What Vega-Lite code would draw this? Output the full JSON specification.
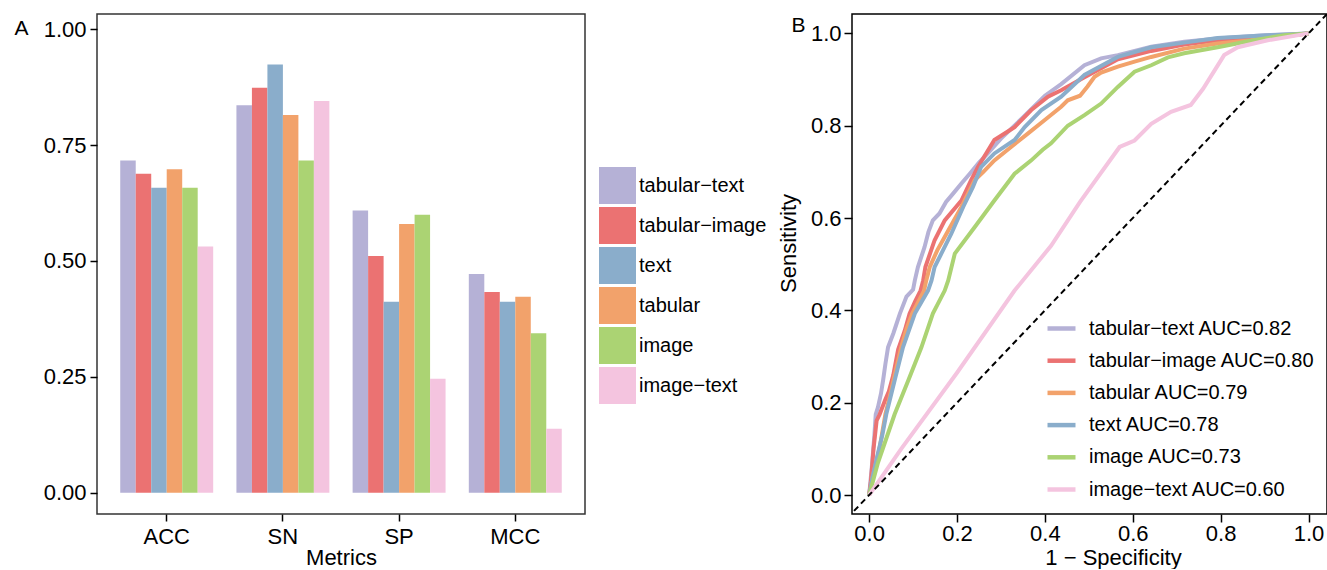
{
  "$schema": "https://vega.github.io/schema/vega-lite/v6.json",
  "padding": {"left": 13, "top": 13, "right": 0, "bottom": 0},
  "autosize": {"type": "pad"},
  "bounds": "flush",
  "spacing": 267,
  "config": {
    "font": "Liberation Sans",
    "axis": {"domain": false, "grid": false, "tickColor": "#000", "tickWidth": 1.5, "tickSize": 7, "labelFontSize": 22, "labelColor": "#000", "titleFontSize": 22, "titleFontWeight": "normal", "titleColor": "#000"},
    "legend": {"labelFontSize": 20, "labelColor": "#000", "title": null, "padding": 0, "labelLimit": 0}
  },
  "resolve": {"scale": {"color": "independent"}, "legend": {"color": "independent"}},
  "hconcat": [
    {
      "width": 488,
      "height": 500,
      "view": {"stroke": "#333", "strokeWidth": 1.5},
      "data": {"values": [
        {"metric": "ACC", "model": "tabular−text", "value": 0.717},
        {"metric": "ACC", "model": "tabular−image", "value": 0.688},
        {"metric": "ACC", "model": "text", "value": 0.658},
        {"metric": "ACC", "model": "tabular", "value": 0.698},
        {"metric": "ACC", "model": "image", "value": 0.658},
        {"metric": "ACC", "model": "image−text", "value": 0.531},
        {"metric": "SN", "model": "tabular−text", "value": 0.836},
        {"metric": "SN", "model": "tabular−image", "value": 0.874},
        {"metric": "SN", "model": "text", "value": 0.924},
        {"metric": "SN", "model": "tabular", "value": 0.815},
        {"metric": "SN", "model": "image", "value": 0.717},
        {"metric": "SN", "model": "image−text", "value": 0.845},
        {"metric": "SP", "model": "tabular−text", "value": 0.609},
        {"metric": "SP", "model": "tabular−image", "value": 0.511},
        {"metric": "SP", "model": "text", "value": 0.412},
        {"metric": "SP", "model": "tabular", "value": 0.58},
        {"metric": "SP", "model": "image", "value": 0.6},
        {"metric": "SP", "model": "image−text", "value": 0.246},
        {"metric": "MCC", "model": "tabular−text", "value": 0.472},
        {"metric": "MCC", "model": "tabular−image", "value": 0.433},
        {"metric": "MCC", "model": "text", "value": 0.412},
        {"metric": "MCC", "model": "tabular", "value": 0.423},
        {"metric": "MCC", "model": "image", "value": 0.344},
        {"metric": "MCC", "model": "image−text", "value": 0.138}
      ]},
      "mark": {"type": "bar"},
      "encoding": {
        "x": {"field": "metric", "type": "nominal", "sort": ["ACC", "SN", "SP", "MCC"],
              "scale": {"paddingInner": 0.2, "paddingOuter": 0.2},
              "axis": {"title": "Metrics", "labelAngle": 0, "labelPadding": 5, "titlePadding": 0}},
        "xOffset": {"field": "model", "type": "nominal",
              "sort": ["tabular−text", "tabular−image", "text", "tabular", "image", "image−text"],
              "scale": {"paddingInner": 0, "paddingOuter": 0}},
        "y": {"field": "value", "type": "quantitative",
              "scale": {"domain": [-0.046, 1.033], "nice": false},
              "axis": {"values": [0, 0.25, 0.5, 0.75, 1], "format": ".2f", "title": "A", "titleAngle": 0,
                       "titleX": -83, "titleY": 14.5, "titleAlign": "left", "titleBaseline": "middle",
                       "titleFontSize": 21, "labelPadding": 4}},
        "y2": {"datum": 0},
        "color": {"field": "model", "type": "nominal",
              "scale": {"domain": ["tabular−text", "tabular−image", "text", "tabular", "image", "image−text"],
                        "range": ["#B5B1D6", "#EB7272", "#8AADCB", "#F2A26B", "#ABD373", "#F4C4DF"]},
              "legend": {"orient": "none", "legendX": 502, "legendY": 153, "symbolType": "square",
                         "symbolSize": 1369, "symbolStrokeWidth": 0, "symbolOpacity": 1,
                         "rowPadding": 3, "labelOffset": 3, "labelFontSize": 20}}
      }
    },
    {
      "width": 475,
      "height": 500,
      "view": {"stroke": "#000", "strokeWidth": 1.5},
      "resolve": {"axis": {"x": "independent"}},
      "layer": [
        {
          "data": {"values": [
            {"curve": "tabular−text AUC=0.82", "fpr": 0, "tpr": 0},
            {"curve": "tabular−text AUC=0.82", "fpr": 0.006, "tpr": 0.06},
            {"curve": "tabular−text AUC=0.82", "fpr": 0.012, "tpr": 0.13},
            {"curve": "tabular−text AUC=0.82", "fpr": 0.015, "tpr": 0.175},
            {"curve": "tabular−text AUC=0.82", "fpr": 0.02, "tpr": 0.19},
            {"curve": "tabular−text AUC=0.82", "fpr": 0.027, "tpr": 0.22},
            {"curve": "tabular−text AUC=0.82", "fpr": 0.032, "tpr": 0.25},
            {"curve": "tabular−text AUC=0.82", "fpr": 0.037, "tpr": 0.284},
            {"curve": "tabular−text AUC=0.82", "fpr": 0.043, "tpr": 0.32},
            {"curve": "tabular−text AUC=0.82", "fpr": 0.055, "tpr": 0.35},
            {"curve": "tabular−text AUC=0.82", "fpr": 0.062, "tpr": 0.37},
            {"curve": "tabular−text AUC=0.82", "fpr": 0.07, "tpr": 0.393},
            {"curve": "tabular−text AUC=0.82", "fpr": 0.085, "tpr": 0.43},
            {"curve": "tabular−text AUC=0.82", "fpr": 0.1, "tpr": 0.445},
            {"curve": "tabular−text AUC=0.82", "fpr": 0.104, "tpr": 0.465},
            {"curve": "tabular−text AUC=0.82", "fpr": 0.111, "tpr": 0.494},
            {"curve": "tabular−text AUC=0.82", "fpr": 0.126, "tpr": 0.537},
            {"curve": "tabular−text AUC=0.82", "fpr": 0.135, "tpr": 0.57},
            {"curve": "tabular−text AUC=0.82", "fpr": 0.145, "tpr": 0.595},
            {"curve": "tabular−text AUC=0.82", "fpr": 0.16, "tpr": 0.61},
            {"curve": "tabular−text AUC=0.82", "fpr": 0.175, "tpr": 0.635},
            {"curve": "tabular−text AUC=0.82", "fpr": 0.191, "tpr": 0.653},
            {"curve": "tabular−text AUC=0.82", "fpr": 0.21, "tpr": 0.675},
            {"curve": "tabular−text AUC=0.82", "fpr": 0.229, "tpr": 0.696},
            {"curve": "tabular−text AUC=0.82", "fpr": 0.25, "tpr": 0.72},
            {"curve": "tabular−text AUC=0.82", "fpr": 0.27, "tpr": 0.74},
            {"curve": "tabular−text AUC=0.82", "fpr": 0.3, "tpr": 0.772},
            {"curve": "tabular−text AUC=0.82", "fpr": 0.35, "tpr": 0.818},
            {"curve": "tabular−text AUC=0.82", "fpr": 0.4, "tpr": 0.865},
            {"curve": "tabular−text AUC=0.82", "fpr": 0.437, "tpr": 0.89},
            {"curve": "tabular−text AUC=0.82", "fpr": 0.49, "tpr": 0.931},
            {"curve": "tabular−text AUC=0.82", "fpr": 0.528, "tpr": 0.946},
            {"curve": "tabular−text AUC=0.82", "fpr": 0.566, "tpr": 0.953},
            {"curve": "tabular−text AUC=0.82", "fpr": 0.642, "tpr": 0.971},
            {"curve": "tabular−text AUC=0.82", "fpr": 0.717, "tpr": 0.982},
            {"curve": "tabular−text AUC=0.82", "fpr": 0.793, "tpr": 0.989},
            {"curve": "tabular−text AUC=0.82", "fpr": 0.9, "tpr": 0.996},
            {"curve": "tabular−text AUC=0.82", "fpr": 1, "tpr": 1},

            {"curve": "tabular−image AUC=0.80", "fpr": 0, "tpr": 0},
            {"curve": "tabular−image AUC=0.80", "fpr": 0.004, "tpr": 0.03},
            {"curve": "tabular−image AUC=0.80", "fpr": 0.01, "tpr": 0.1},
            {"curve": "tabular−image AUC=0.80", "fpr": 0.017, "tpr": 0.161},
            {"curve": "tabular−image AUC=0.80", "fpr": 0.024, "tpr": 0.175},
            {"curve": "tabular−image AUC=0.80", "fpr": 0.036, "tpr": 0.205},
            {"curve": "tabular−image AUC=0.80", "fpr": 0.045, "tpr": 0.225},
            {"curve": "tabular−image AUC=0.80", "fpr": 0.055, "tpr": 0.26},
            {"curve": "tabular−image AUC=0.80", "fpr": 0.066, "tpr": 0.315},
            {"curve": "tabular−image AUC=0.80", "fpr": 0.081, "tpr": 0.356},
            {"curve": "tabular−image AUC=0.80", "fpr": 0.092, "tpr": 0.393},
            {"curve": "tabular−image AUC=0.80", "fpr": 0.105, "tpr": 0.42},
            {"curve": "tabular−image AUC=0.80", "fpr": 0.117, "tpr": 0.443},
            {"curve": "tabular−image AUC=0.80", "fpr": 0.123, "tpr": 0.465},
            {"curve": "tabular−image AUC=0.80", "fpr": 0.128, "tpr": 0.494},
            {"curve": "tabular−image AUC=0.80", "fpr": 0.149, "tpr": 0.552},
            {"curve": "tabular−image AUC=0.80", "fpr": 0.172, "tpr": 0.595},
            {"curve": "tabular−image AUC=0.80", "fpr": 0.21, "tpr": 0.638},
            {"curve": "tabular−image AUC=0.80", "fpr": 0.232, "tpr": 0.682},
            {"curve": "tabular−image AUC=0.80", "fpr": 0.248, "tpr": 0.711},
            {"curve": "tabular−image AUC=0.80", "fpr": 0.285, "tpr": 0.769},
            {"curve": "tabular−image AUC=0.80", "fpr": 0.331, "tpr": 0.797},
            {"curve": "tabular−image AUC=0.80", "fpr": 0.369, "tpr": 0.834},
            {"curve": "tabular−image AUC=0.80", "fpr": 0.407, "tpr": 0.863},
            {"curve": "tabular−image AUC=0.80", "fpr": 0.437, "tpr": 0.877},
            {"curve": "tabular−image AUC=0.80", "fpr": 0.49, "tpr": 0.905},
            {"curve": "tabular−image AUC=0.80", "fpr": 0.566, "tpr": 0.944},
            {"curve": "tabular−image AUC=0.80", "fpr": 0.642, "tpr": 0.962},
            {"curve": "tabular−image AUC=0.80", "fpr": 0.717, "tpr": 0.976},
            {"curve": "tabular−image AUC=0.80", "fpr": 0.793, "tpr": 0.985},
            {"curve": "tabular−image AUC=0.80", "fpr": 0.907, "tpr": 0.993},
            {"curve": "tabular−image AUC=0.80", "fpr": 1, "tpr": 1},

            {"curve": "tabular AUC=0.79", "fpr": 0, "tpr": 0},
            {"curve": "tabular AUC=0.79", "fpr": 0.008, "tpr": 0.04},
            {"curve": "tabular AUC=0.79", "fpr": 0.024, "tpr": 0.103},
            {"curve": "tabular AUC=0.79", "fpr": 0.037, "tpr": 0.175},
            {"curve": "tabular AUC=0.79", "fpr": 0.046, "tpr": 0.21},
            {"curve": "tabular AUC=0.79", "fpr": 0.055, "tpr": 0.248},
            {"curve": "tabular AUC=0.79", "fpr": 0.073, "tpr": 0.32},
            {"curve": "tabular AUC=0.79", "fpr": 0.085, "tpr": 0.36},
            {"curve": "tabular AUC=0.79", "fpr": 0.098, "tpr": 0.393},
            {"curve": "tabular AUC=0.79", "fpr": 0.125, "tpr": 0.443},
            {"curve": "tabular AUC=0.79", "fpr": 0.13, "tpr": 0.465},
            {"curve": "tabular AUC=0.79", "fpr": 0.138, "tpr": 0.494},
            {"curve": "tabular AUC=0.79", "fpr": 0.155, "tpr": 0.53},
            {"curve": "tabular AUC=0.79", "fpr": 0.176, "tpr": 0.566},
            {"curve": "tabular AUC=0.79", "fpr": 0.21, "tpr": 0.624},
            {"curve": "tabular AUC=0.79", "fpr": 0.24, "tpr": 0.682},
            {"curve": "tabular AUC=0.79", "fpr": 0.26, "tpr": 0.7},
            {"curve": "tabular AUC=0.79", "fpr": 0.285, "tpr": 0.725},
            {"curve": "tabular AUC=0.79", "fpr": 0.323, "tpr": 0.754},
            {"curve": "tabular AUC=0.79", "fpr": 0.361, "tpr": 0.783},
            {"curve": "tabular AUC=0.79", "fpr": 0.399, "tpr": 0.812},
            {"curve": "tabular AUC=0.79", "fpr": 0.437, "tpr": 0.841},
            {"curve": "tabular AUC=0.79", "fpr": 0.452, "tpr": 0.855},
            {"curve": "tabular AUC=0.79", "fpr": 0.48, "tpr": 0.865},
            {"curve": "tabular AUC=0.79", "fpr": 0.497, "tpr": 0.885},
            {"curve": "tabular AUC=0.79", "fpr": 0.513, "tpr": 0.906},
            {"curve": "tabular AUC=0.79", "fpr": 0.528, "tpr": 0.915},
            {"curve": "tabular AUC=0.79", "fpr": 0.566, "tpr": 0.928},
            {"curve": "tabular AUC=0.79", "fpr": 0.604, "tpr": 0.939},
            {"curve": "tabular AUC=0.79", "fpr": 0.642, "tpr": 0.949},
            {"curve": "tabular AUC=0.79", "fpr": 0.717, "tpr": 0.967},
            {"curve": "tabular AUC=0.79", "fpr": 0.793, "tpr": 0.978},
            {"curve": "tabular AUC=0.79", "fpr": 0.869, "tpr": 0.985},
            {"curve": "tabular AUC=0.79", "fpr": 1, "tpr": 1},

            {"curve": "text AUC=0.78", "fpr": 0, "tpr": 0},
            {"curve": "text AUC=0.78", "fpr": 0.008, "tpr": 0.04},
            {"curve": "text AUC=0.78", "fpr": 0.02, "tpr": 0.09},
            {"curve": "text AUC=0.78", "fpr": 0.03, "tpr": 0.13},
            {"curve": "text AUC=0.78", "fpr": 0.039, "tpr": 0.175},
            {"curve": "text AUC=0.78", "fpr": 0.058, "tpr": 0.248},
            {"curve": "text AUC=0.78", "fpr": 0.077, "tpr": 0.32},
            {"curve": "text AUC=0.78", "fpr": 0.104, "tpr": 0.393},
            {"curve": "text AUC=0.78", "fpr": 0.134, "tpr": 0.443},
            {"curve": "text AUC=0.78", "fpr": 0.142, "tpr": 0.465},
            {"curve": "text AUC=0.78", "fpr": 0.149, "tpr": 0.494},
            {"curve": "text AUC=0.78", "fpr": 0.187, "tpr": 0.566},
            {"curve": "text AUC=0.78", "fpr": 0.214, "tpr": 0.624},
            {"curve": "text AUC=0.78", "fpr": 0.236, "tpr": 0.667},
            {"curve": "text AUC=0.78", "fpr": 0.255, "tpr": 0.711},
            {"curve": "text AUC=0.78", "fpr": 0.285, "tpr": 0.74},
            {"curve": "text AUC=0.78", "fpr": 0.331, "tpr": 0.769},
            {"curve": "text AUC=0.78", "fpr": 0.354, "tpr": 0.797},
            {"curve": "text AUC=0.78", "fpr": 0.392, "tpr": 0.834},
            {"curve": "text AUC=0.78", "fpr": 0.437, "tpr": 0.863},
            {"curve": "text AUC=0.78", "fpr": 0.49, "tpr": 0.91},
            {"curve": "text AUC=0.78", "fpr": 0.566, "tpr": 0.949},
            {"curve": "text AUC=0.78", "fpr": 0.642, "tpr": 0.97},
            {"curve": "text AUC=0.78", "fpr": 0.717, "tpr": 0.98},
            {"curve": "text AUC=0.78", "fpr": 0.793, "tpr": 0.99},
            {"curve": "text AUC=0.78", "fpr": 0.907, "tpr": 0.996},
            {"curve": "text AUC=0.78", "fpr": 1, "tpr": 1},

            {"curve": "image AUC=0.73", "fpr": 0, "tpr": 0},
            {"curve": "image AUC=0.73", "fpr": 0.009, "tpr": 0.031},
            {"curve": "image AUC=0.73", "fpr": 0.02, "tpr": 0.07},
            {"curve": "image AUC=0.73", "fpr": 0.032, "tpr": 0.103},
            {"curve": "image AUC=0.73", "fpr": 0.058, "tpr": 0.175},
            {"curve": "image AUC=0.73", "fpr": 0.089, "tpr": 0.248},
            {"curve": "image AUC=0.73", "fpr": 0.119, "tpr": 0.32},
            {"curve": "image AUC=0.73", "fpr": 0.145, "tpr": 0.393},
            {"curve": "image AUC=0.73", "fpr": 0.172, "tpr": 0.443},
            {"curve": "image AUC=0.73", "fpr": 0.18, "tpr": 0.465},
            {"curve": "image AUC=0.73", "fpr": 0.195, "tpr": 0.523},
            {"curve": "image AUC=0.73", "fpr": 0.24, "tpr": 0.58},
            {"curve": "image AUC=0.73", "fpr": 0.285, "tpr": 0.638},
            {"curve": "image AUC=0.73", "fpr": 0.331, "tpr": 0.696},
            {"curve": "image AUC=0.73", "fpr": 0.369, "tpr": 0.725},
            {"curve": "image AUC=0.73", "fpr": 0.395, "tpr": 0.748},
            {"curve": "image AUC=0.73", "fpr": 0.414, "tpr": 0.762},
            {"curve": "image AUC=0.73", "fpr": 0.452, "tpr": 0.8},
            {"curve": "image AUC=0.73", "fpr": 0.49, "tpr": 0.823},
            {"curve": "image AUC=0.73", "fpr": 0.528, "tpr": 0.848},
            {"curve": "image AUC=0.73", "fpr": 0.566, "tpr": 0.884},
            {"curve": "image AUC=0.73", "fpr": 0.604, "tpr": 0.917},
            {"curve": "image AUC=0.73", "fpr": 0.642, "tpr": 0.931},
            {"curve": "image AUC=0.73", "fpr": 0.68, "tpr": 0.948},
            {"curve": "image AUC=0.73", "fpr": 0.717, "tpr": 0.957},
            {"curve": "image AUC=0.73", "fpr": 0.793, "tpr": 0.97},
            {"curve": "image AUC=0.73", "fpr": 0.869, "tpr": 0.984},
            {"curve": "image AUC=0.73", "fpr": 0.945, "tpr": 0.996},
            {"curve": "image AUC=0.73", "fpr": 1, "tpr": 1},

            {"curve": "image−text AUC=0.60", "fpr": 0, "tpr": 0},
            {"curve": "image−text AUC=0.60", "fpr": 0.073, "tpr": 0.1},
            {"curve": "image−text AUC=0.60", "fpr": 0.2, "tpr": 0.265},
            {"curve": "image−text AUC=0.60", "fpr": 0.331, "tpr": 0.443},
            {"curve": "image−text AUC=0.60", "fpr": 0.414, "tpr": 0.54},
            {"curve": "image−text AUC=0.60", "fpr": 0.48, "tpr": 0.635},
            {"curve": "image−text AUC=0.60", "fpr": 0.57, "tpr": 0.754},
            {"curve": "image−text AUC=0.60", "fpr": 0.585, "tpr": 0.76},
            {"curve": "image−text AUC=0.60", "fpr": 0.604, "tpr": 0.768},
            {"curve": "image−text AUC=0.60", "fpr": 0.642, "tpr": 0.804},
            {"curve": "image−text AUC=0.60", "fpr": 0.687, "tpr": 0.83},
            {"curve": "image−text AUC=0.60", "fpr": 0.732, "tpr": 0.845},
            {"curve": "image−text AUC=0.60", "fpr": 0.76, "tpr": 0.88},
            {"curve": "image−text AUC=0.60", "fpr": 0.808, "tpr": 0.953},
            {"curve": "image−text AUC=0.60", "fpr": 0.839, "tpr": 0.97},
            {"curve": "image−text AUC=0.60", "fpr": 0.907, "tpr": 0.985},
            {"curve": "image−text AUC=0.60", "fpr": 1, "tpr": 1}
          ]},
          "mark": {"type": "line", "strokeWidth": 4},
          "encoding": {
            "x": {"field": "fpr", "type": "quantitative",
                  "scale": {"domain": [-0.039, 1.042], "nice": false, "zero": false},
                  "axis": {"values": [0, 0.2, 0.4, 0.6, 0.8, 1], "format": ".1f", "title": "1 − Specificity",
                           "titleX": 261, "tickSize": 8, "labelPadding": 1, "titlePadding": 3}},
            "y": {"field": "tpr", "type": "quantitative",
                  "scale": {"domain": [-0.041, 1.042], "nice": false, "zero": false},
                  "axis": {"values": [0, 0.2, 0.4, 0.6, 0.8, 1], "format": ".1f", "title": "Sensitivity",
                           "titleY": 229, "tickSize": 8, "labelPadding": 3, "titlePadding": 10}},
            "color": {"field": "curve", "type": "nominal",
                  "sort": ["tabular−text AUC=0.82", "tabular−image AUC=0.80", "tabular AUC=0.79", "text AUC=0.78", "image AUC=0.73", "image−text AUC=0.60"],
                  "scale": {"domain": ["tabular−text AUC=0.82", "tabular−image AUC=0.80", "tabular AUC=0.79", "text AUC=0.78", "image AUC=0.73", "image−text AUC=0.60"],
                            "range": ["#B5B1D6", "#EB7272", "#F2A26B", "#8AADCB", "#ABD373", "#F4C4DF"]},
                  "legend": {"orient": "none", "legendX": 193, "legendY": 298, "symbolType": "stroke",
                             "symbolSize": 784, "symbolStrokeWidth": 4.5, "rowPadding": 5.2,
                             "labelOffset": 11, "labelFontSize": 20, "labelLimit": 0}}
          }
        },
        {
          "data": {"values": [{"d": -0.05}, {"d": 1.05}]},
          "mark": {"type": "line", "color": "#000", "strokeDash": [6, 4], "strokeWidth": 2, "clip": true},
          "encoding": {
            "x": {"field": "d", "type": "quantitative",
                  "scale": {"domain": [-0.039, 1.042], "nice": false, "zero": false},
                  "axis": {"orient": "top", "title": "B", "labels": false, "ticks": false, "domain": false,
                           "titleX": -61, "titleY": 11.5, "titleAlign": "left", "titleBaseline": "middle",
                           "titleFontSize": 21}},
            "y": {"field": "d", "type": "quantitative",
                  "scale": {"domain": [-0.041, 1.042], "nice": false, "zero": false},
                  "axis": {"values": [0, 0.2, 0.4, 0.6, 0.8, 1], "format": ".1f", "title": "Sensitivity",
                           "titleY": 229, "tickSize": 8, "labelPadding": 3, "titlePadding": 10}}
          }
        }
      ]
    }
  ]
}
